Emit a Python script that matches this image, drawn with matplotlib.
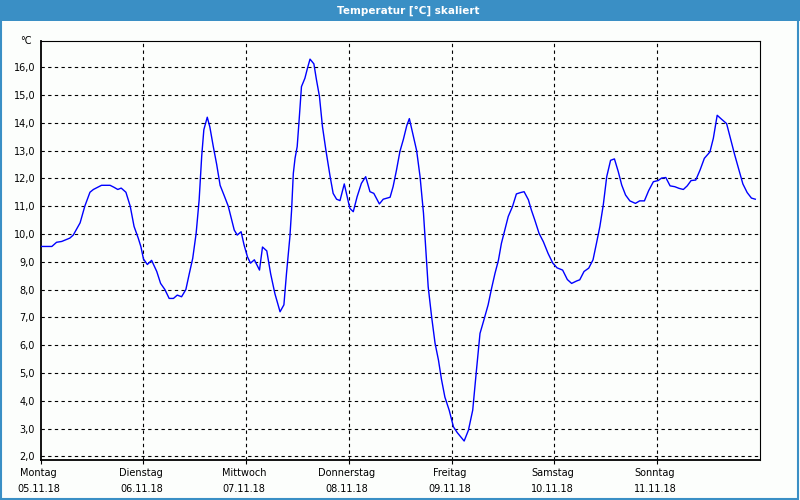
import numpy as np
import matplotlib
matplotlib.use("Agg")
import matplotlib.pyplot as plt
from matplotlib.patches import Rectangle
from matplotlib.ticker import FuncFormatter

# hours since Monday 00:00 and temperature in °C
hours = [0.0, 2.6, 3.7, 4.9, 6.8, 7.6, 9.2, 10.3, 11.5, 12.3, 14.2, 16.2, 17.1, 18.0,
         18.8, 19.9, 20.9, 21.8, 22.8, 23.4, 24.0, 24.9, 25.9, 27.1, 28.0, 29.0, 30.0,
         31.0, 31.9, 32.9, 33.9, 34.7, 35.5, 36.3, 37.0, 37.6, 38.1, 38.9, 39.5, 40.3,
         41.1, 41.9, 42.8, 43.8, 44.6, 45.2, 45.9, 46.8, 47.5, 48.3, 49.0, 49.9, 51.1,
         51.8, 52.8, 53.7, 54.7, 55.9, 56.8, 57.4, 58.2, 58.6, 59.0, 59.4, 59.9, 60.3,
         60.9, 61.7, 62.3, 62.9, 63.8, 64.4, 65.1, 65.8, 66.6, 67.6, 68.3, 69.1, 69.9,
         70.9, 71.4, 72.2, 73.0, 73.9, 74.9, 75.9, 76.9, 77.8, 79.1, 80.0, 81.6, 82.3,
         83.1, 83.9, 84.7, 85.5, 86.1, 87.0, 87.8, 88.6, 89.4, 90.0, 90.5, 91.3, 92.1,
         92.9, 93.6, 94.4, 95.4, 96.4, 97.3, 98.1, 98.9, 99.9, 100.9, 101.7, 102.6,
         103.5, 104.5, 105.3, 106.1, 106.9, 107.6, 108.4, 109.2, 110.2, 111.1, 112.1,
         112.9, 113.9, 114.6, 115.4, 116.4, 117.4, 118.5, 119.6, 120.6, 121.9, 123.0,
         124.0, 125.2, 125.9, 126.9, 128.0, 129.0, 129.8, 130.6, 131.4, 132.2, 133.1,
         134.0, 134.9, 135.7, 136.6, 137.6, 138.9, 139.9, 141.0, 142.0, 143.1, 144.2,
         145.0, 146.0, 147.0, 148.1, 149.1, 150.1, 151.0, 151.9, 153.0, 154.0, 155.0,
         156.3, 157.1, 158.0, 159.0, 160.2, 161.1, 162.1, 163.1, 164.0, 165.0, 166.0,
         166.9]
temps = [9.55, 9.55, 9.70, 9.73, 9.85, 9.96, 10.40, 11.00, 11.50, 11.60, 11.75, 11.75,
         11.68, 11.60, 11.65, 11.50, 11.00, 10.27, 9.84, 9.54, 9.10, 8.90, 9.05, 8.65,
         8.22, 8.00, 7.68, 7.68, 7.80, 7.74, 8.00, 8.57, 9.12, 10.02, 11.22, 12.80,
         13.75, 14.20, 13.85, 13.15, 12.50, 11.75, 11.40, 11.00, 10.50, 10.14, 9.96,
         10.08, 9.60, 9.17, 8.95, 9.07, 8.70, 9.53, 9.39, 8.57, 7.85, 7.20, 7.45, 8.57,
         9.90, 10.87, 12.18, 12.72, 13.14, 13.98, 15.30, 15.60, 15.96, 16.29, 16.12,
         15.55, 14.95, 13.87, 13.02, 12.06, 11.46, 11.25, 11.20, 11.80, 11.46, 10.92,
         10.80, 11.34, 11.82, 12.06, 11.52, 11.46, 11.08, 11.25, 11.32, 11.70, 12.30,
         12.97, 13.40, 13.90, 14.15, 13.55, 13.00, 12.06, 10.75, 9.30, 8.10, 7.02, 6.07,
         5.46, 4.77, 4.13, 3.66, 3.06, 2.85, 2.70, 2.55, 2.94, 3.66, 4.98, 6.42, 6.90,
         7.45, 8.04, 8.58, 9.05, 9.66, 10.14, 10.63, 10.99, 11.44, 11.49, 11.52, 11.23,
         10.86, 10.50, 10.02, 9.72, 9.30, 8.95, 8.78, 8.70, 8.36, 8.22, 8.31, 8.35,
         8.65, 8.77, 9.07, 9.66, 10.27, 11.05, 12.06, 12.65, 12.70, 12.24, 11.76, 11.40,
         11.19, 11.10, 11.19, 11.19, 11.56, 11.88, 11.92, 12.01, 12.03, 11.73, 11.70,
         11.64, 11.60, 11.73, 11.92, 11.94, 12.30, 12.72, 12.95, 13.44, 14.27, 14.13,
         13.97, 13.44, 12.84, 12.30, 11.80, 11.49, 11.29, 11.25]

day_names = ["Montag", "Dienstag", "Mittwoch", "Donnerstag", "Freitag", "Samstag", "Sonntag"]
day_dates = ["05.11.18", "06.11.18", "07.11.18", "08.11.18", "09.11.18", "10.11.18", "11.11.18"]
y_ticks = list(range(2, 17))

BLUE = "#3a8fc5"
BG = "#fcfefc"

fig = plt.figure(figsize=(8, 5), dpi=100, facecolor=BG)
# title bar + thin frame
fig.patches.append(Rectangle((0, 0.958), 1, 0.042, transform=fig.transFigure,
                             facecolor=BLUE, edgecolor="none", zorder=0))
fig.patches.append(Rectangle((0.001, 0.003), 0.996, 0.995, transform=fig.transFigure,
                             facecolor="none", edgecolor=BLUE, lw=1.5, zorder=1))
fig.text(0.51, 0.979, "Temperatur [°C] skaliert", color="white", fontsize=7.5,
         fontweight="bold", ha="center", va="center")

ax = fig.add_axes([0.0509, 0.0794, 0.8991, 0.8396])
ax.set_facecolor(BG)
ax.plot(hours, temps, color="#0000ff", lw=1.0, zorder=3)

ax.set_xlim(0, 168)
ax.set_ylim(1.856, 16.96)
ax.set_yticks(y_ticks)
ax.yaxis.set_major_formatter(FuncFormatter(lambda v, p: f"{v:.1f}".replace(".", ",")))
ax.tick_params(axis="y", length=0, pad=4, labelsize=7)
ax.set_xticks([24 * i for i in range(7)])
ax.set_xticklabels([])
ax.tick_params(axis="x", length=3, width=0.8, direction="out")

for y in y_ticks:
    ax.axhline(y, color="black", lw=0.8, ls=(0, (3, 3)), zorder=1)
for i in range(1, 7):
    ax.axvline(24 * i, color="black", lw=0.8, ls=(0, (3, 3)), zorder=1)

for side in ["top", "right"]:
    ax.spines[side].set_linewidth(0.8)
for side in ["left", "bottom"]:
    ax.spines[side].set_linewidth(1.3)

for i, (nm, dt) in enumerate(zip(day_names, day_dates)):
    ax.text(24 * i - 0.5, -0.031, nm, transform=ax.get_xaxis_transform(), ha="center",
            va="center", fontsize=7)
    ax.text(24 * i - 0.5, -0.069, dt, transform=ax.get_xaxis_transform(), ha="center",
            va="center", fontsize=7)
ax.text(-0.012, 1.0, "°C", transform=ax.transAxes, ha="right", va="center", fontsize=7)

fig.savefig("out.png", dpi=100, facecolor=BG)
